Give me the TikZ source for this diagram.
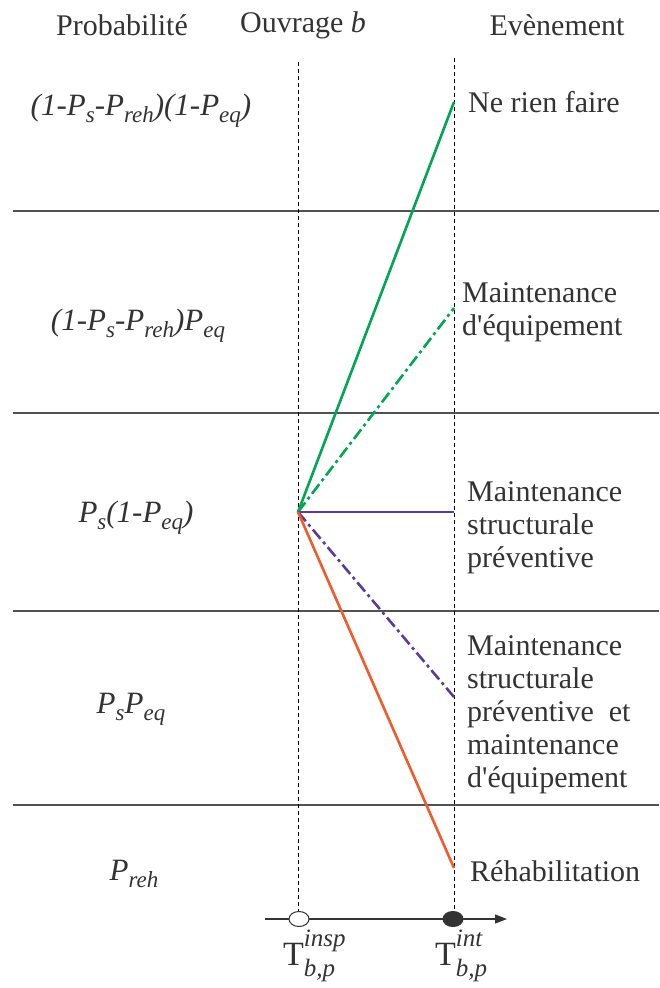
\documentclass[tikz,border=0pt]{standalone}
\usepackage{fontspec}
\setmainfont{Liberation Serif}
\usetikzlibrary{arrows.meta,shapes.geometric}
\definecolor{txt}{HTML}{333333}
\definecolor{grn}{HTML}{00A651}
\definecolor{prp}{HTML}{5E3A98}
\definecolor{org}{HTML}{F15A2B}
\newcommand\psub[1]{\raisebox{-7pt}{\fontsize{23}{23}\selectfont #1}}
\newcommand\tscr[1]{{\fontsize{25}{25}\selectfont\itshape #1}}
\begin{document}
\begin{tikzpicture}[x=1pt,y=-1pt,
  every node/.style={text=txt,font=\fontsize{30}{33}\selectfont,inner sep=0pt},
  sep/.style={draw=txt!85,line width=1.2pt},
  guide/.style={draw=black,line width=0.9pt,dash pattern=on 4pt off 3pt},
  branch/.style={line width=2.6pt},
  dashdot/.style={dash pattern=on 12pt off 4pt on 3pt off 4pt},
  evt/.style={anchor=west,align=left},
  prob/.style={anchor=base,font=\fontsize{31}{33}\selectfont\itshape},
  tlab/.style={anchor=base west,font=\fontsize{34}{34}\selectfont},
  tick/.style={ellipse,draw=txt,line width=1pt,minimum width=20pt,minimum height=15pt}]
\useasboundingbox (0,0) rectangle (659,988);
% headers
\node (hP) at (122,25) {Probabilité};
\node (hO) at (303,25) {Ouvrage \textit{b}};
\node (hE) at (557,25) {Evènement};
% separators
\foreach \yy/\nm in {211/s1,413/s2,611/s3,805/s4}{
  \coordinate (\nm a) at (13,\yy);
  \coordinate (\nm b) at (659,\yy);
  \draw[sep] (\nm a) -- (\nm b);
}
% axis
\coordinate (a0) at (265,919);
\coordinate (a1) at (507,919);
\draw[draw=txt,line width=1.2pt,-{Triangle[length=12pt,width=9pt]}] (a0) -- (a1);
\node[tick,fill=white] (c1) at (299,919) {};
\node[tick,fill=txt] (c2) at (453,919) {};
% guides
\coordinate (g1) at (298,62);
\coordinate (g2) at (454,58);
\draw[guide] (g1) -- (g1 |- c1.north);
\draw[guide] (g2) -- (g2 |- c2.north);
% branches
\coordinate (O) at (298,512);
\coordinate (E1) at (454,102);
\coordinate (E2) at (454,308);
\coordinate (E3) at (454,512);
\coordinate (E4) at (454,697);
\coordinate (E5) at (454,868);
\draw[branch,grn] (O) -- (E1);
\draw[branch,grn,dashdot] (O) -- (E2);
\draw[branch,prp] (O) -- (E3);
\draw[branch,prp,dashdot] (O) -- (E4);
\draw[branch,org] (O) -- (E5);
% events
\node[evt] (n1) at (468,102) {Ne rien faire};
\node[evt] (n2) at (462,312) {Maintenance\\d\textquotesingle équipement};
\node[evt] (n3) at (467,528) {Maintenance\\structurale\\préventive};
\node[evt] (n4) at (467,715) {Maintenance\\structurale\\préventive~~et\\maintenance\\d\textquotesingle équipement};
\node[evt] (n5) at (470,871) {Réhabilitation};
% probabilities
\node[prob] (p1) at (141,115) {(1-P\psub{s}-P\psub{reh})(1-P\psub{eq})};
\node[prob] (p2) at (138,330) {(1-P\psub{s}-P\psub{reh})P\psub{eq}};
\node[prob] (p3) at (136,522) {P\psub{s}(1-P\psub{eq})};
\node[prob] (p4) at (131,713) {P\psub{s}P\psub{eq}};
\node[prob] (p5) at (134,880) {P\psub{reh}};
% time labels
\node[tlab] (t1) at (283,965) {T\rlap{\raisebox{-11pt}{\tscr{b,p}}}\raisebox{19pt}{\tscr{insp}}};
\node[tlab] (t2) at (435,965) {T\rlap{\raisebox{19pt}{\tscr{int}}}\raisebox{-11pt}{\tscr{b,p}}};
\end{tikzpicture}
\end{document}
